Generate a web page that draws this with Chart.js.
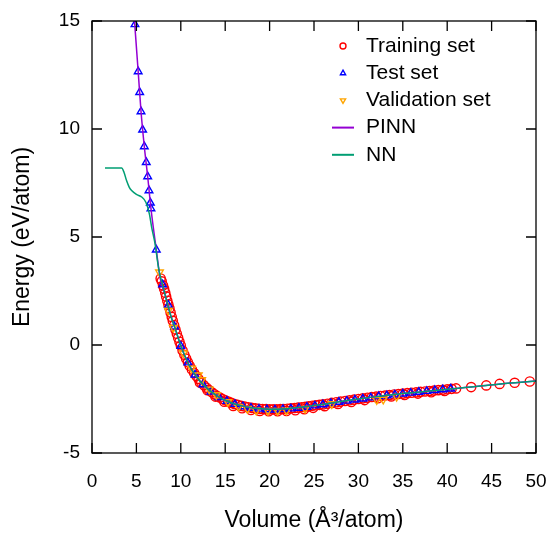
<!DOCTYPE html>
<html>
<head>
<meta charset="utf-8">
<script src="https://cdn.jsdelivr.net/npm/chart.js@4"></script>
<style>
  html, body { margin: 0; padding: 0; background: #fff; }
</style>
</head>
<body>
<canvas id="eos" width="552" height="535"></canvas>
<script>

// tick positions
const xTicks = [0, 5, 10, 15, 20, 25, 30, 35, 40, 45, 50];
const yTicks = [-5, 0, 5, 10, 15];

// training set (red circles)
const trainV = [7.73, 7.85, 8.0, 8.12, 8.25, 8.35, 8.48, 8.6, 8.72, 8.85, 8.98, 9.1, 9.25, 9.4, 9.55, 9.7, 9.85,
  10.0, 10.2, 10.4, 10.6, 10.8, 11.0, 11.25, 11.5, 11.75, 12.0, 12.3, 12.6, 12.9, 13.2, 13.5, 13.8, 14.1, 14.4,
  14.7, 15.0, 15.35, 15.7, 16.05, 16.4, 16.8, 17.2, 17.6, 18.0, 18.4, 18.8, 19.2, 19.6, 20.0, 20.4, 20.8, 21.2,
  21.6, 22.0, 22.4, 22.8, 23.2, 23.6, 24.0, 24.4, 24.8, 25.2, 25.6, 26.0, 26.5, 27.0, 27.5, 28.0, 28.5, 29.0,
  29.5, 30.0, 30.5, 31.0, 31.5, 32.0, 32.5, 33.0, 33.5, 34.0, 34.5, 35.0, 35.5, 36.0, 36.5, 37.0, 37.5, 38.0,
  38.5, 39.0, 39.5, 40.0, 40.5, 41.0, 42.7, 44.4, 45.9, 47.6, 49.3,
  12.15, 13.0, 13.9, 14.9, 15.9, 16.9, 17.9, 18.9, 19.9, 20.9, 21.9, 22.9, 23.9, 24.9, 26.2, 27.7, 29.2, 30.7,
  32.2, 33.7, 35.2, 36.7, 38.2, 39.7];
const trainE = [3.08, 2.95, 2.75, 2.6, 2.42, 2.25, 2.05, 1.88, 1.7, 1.5, 1.3, 1.12, 0.92, 0.72, 0.52, 0.33, 0.15,
  -0.02, -0.25, -0.45, -0.63, -0.8, -0.96, -1.13, -1.3, -1.44, -1.57, -1.72, -1.86, -1.98, -2.09, -2.19, -2.28,
  -2.36, -2.43, -2.5, -2.56, -2.62, -2.68, -2.73, -2.77, -2.82, -2.85, -2.88, -2.91, -2.93, -2.95, -2.96, -2.97,
  -2.98, -2.98, -2.98, -2.97, -2.96, -2.95, -2.93, -2.92, -2.9, -2.88, -2.86, -2.84, -2.81, -2.79, -2.77, -2.75,
  -2.72, -2.68, -2.65, -2.62, -2.59, -2.56, -2.53, -2.5, -2.47, -2.44, -2.41, -2.39, -2.36, -2.34, -2.32, -2.29,
  -2.27, -2.25, -2.23, -2.21, -2.19, -2.17, -2.15, -2.13, -2.11, -2.09, -2.07, -2.05, -2.03, -2.01, -1.95,
  -1.87, -1.8, -1.75, -1.69,
  -1.74, -2.09, -2.39, -2.63, -2.82, -2.93, -3.01, -3.05, -3.07, -3.07, -3.05, -3.02, -2.97, -2.91, -2.83,
  -2.73, -2.64, -2.55, -2.46, -2.38, -2.31, -2.25, -2.19, -2.13];

// test set (blue triangles)
const testV = [4.84, 5.2, 5.37, 5.52, 5.7, 5.89, 6.11, 6.27, 6.42, 6.57, 6.64, 7.24, 7.95, 8.6, 9.3, 10.0, 10.8,
  11.6, 12.5, 13.4, 14.3, 15.2, 16.1, 17.0, 17.9, 18.8, 19.7, 20.6, 21.5, 22.4, 23.3, 24.2, 25.1, 26.0, 26.9,
  27.8, 28.7, 29.6, 30.5, 31.4, 32.3, 33.2, 34.1, 35.0, 35.9, 36.8, 37.7, 38.6, 39.5, 40.4];
const testE = [14.84, 12.66, 11.7, 10.81, 9.96, 9.19, 8.46, 7.8, 7.15, 6.58, 6.32, 4.41, 2.8, 1.85, 0.85, -0.05,
  -0.82, -1.38, -1.83, -2.17, -2.42, -2.6, -2.74, -2.85, -2.92, -2.96, -2.99, -3.0, -2.98, -2.95, -2.92, -2.87,
  -2.81, -2.76, -2.7, -2.64, -2.59, -2.54, -2.49, -2.44, -2.38, -2.34, -2.3, -2.26, -2.22, -2.18, -2.14, -2.1,
  -2.06, -2.03];

// validation set (orange down triangles)
const validV = [7.6, 8.6, 9.16, 10.3, 11.2, 11.97, 12.35, 13.2, 14.0, 15.3, 16.5, 17.5, 18.5, 19.8, 20.9, 21.9,
  24.0, 27.0, 32.06, 32.8, 34.3];
const validE = [3.37, 1.6, 0.8, -0.38, -1.08, -1.4, -1.62, -2.05, -2.31, -2.64, -2.85, -2.95, -3.03, -3.04,
  -3.04, -3.03, -2.95, -2.73, -2.54, -2.52, -2.39];

// PINN curve
const pinnV = [4.75, 5.2, 5.52, 5.89, 6.27, 6.64, 7.24, 7.7, 8.2, 8.8, 9.4, 10.0, 11.0, 12.0, 13.0, 14.0, 15.0,
  16.0, 17.0, 18.0, 19.0, 20.0, 21.0, 22.0, 23.0, 24.0, 25.0, 26.0, 28.0, 30.0, 32.0, 34.0, 36.0, 38.0, 40.0,
  42.0, 44.0, 46.0, 48.0, 50.0];
const pinnE = [15.2, 12.66, 10.81, 9.19, 7.8, 6.32, 4.41, 3.05, 2.38, 1.45, 0.72, -0.03, -0.98, -1.6, -2.02,
  -2.33, -2.56, -2.72, -2.83, -2.9, -2.95, -2.97, -2.97, -2.95, -2.91, -2.86, -2.8, -2.75, -2.62, -2.5, -2.39,
  -2.29, -2.21, -2.13, -2.05, -1.97, -1.89, -1.8, -1.74, -1.67];

// NN curve
const nnV = [1.46, 3.34, 3.6, 3.9, 4.2, 4.46, 5.0, 5.6, 6.08, 6.46, 6.72, 7.1, 7.5, 8.0, 8.8, 9.4, 10.0, 11.0,
  12.0, 13.0, 14.0, 15.0, 16.0, 17.0, 18.0, 19.0, 20.0, 21.0, 22.0, 23.0, 24.0, 25.0, 26.0, 28.0, 30.0, 32.0,
  34.0, 36.0, 38.0, 40.0, 42.0, 44.0, 46.0, 48.0, 50.0];
const nnE = [8.19, 8.19, 8.0, 7.6, 7.3, 7.15, 6.97, 6.85, 6.6, 6.07, 5.45, 4.69, 3.55, 2.7, 1.45, 0.72, -0.03,
  -0.98, -1.6, -2.02, -2.33, -2.56, -2.72, -2.83, -2.9, -2.95, -2.97, -2.97, -2.95, -2.91, -2.86, -2.8, -2.75,
  -2.62, -2.5, -2.39, -2.29, -2.21, -2.13, -2.05, -1.97, -1.89, -1.8, -1.74, -1.67];

const pts = (xs, ys) => xs.map((x, i) => ({x: x, y: ys[i]}));

Chart.defaults.font.family = '"Liberation Sans", Arial, Helvetica, sans-serif';
Chart.defaults.color = '#000';

// gnuplot style box with inward ticks on all four sides
const framePlugin = {
  id: 'frame',
  afterDatasetsDraw(chart) {
    const {ctx, chartArea: a} = chart;
    const sx = chart.scales.x, sy = chart.scales.y;
    ctx.save();
    ctx.strokeStyle = '#000';
    ctx.lineWidth = 1.3;
    ctx.beginPath();
    xTicks.forEach(v => {
      const px = sx.getPixelForValue(v);
      ctx.moveTo(px, a.bottom); ctx.lineTo(px, a.bottom - 10);
      ctx.moveTo(px, a.top); ctx.lineTo(px, a.top + 10);
    });
    yTicks.forEach(v => {
      const py = sy.getPixelForValue(v);
      ctx.moveTo(a.left, py); ctx.lineTo(a.left + 10, py);
      ctx.moveTo(a.right, py); ctx.lineTo(a.right - 10, py);
    });
    ctx.stroke();
    ctx.strokeRect(a.left, a.top, a.right - a.left, a.bottom - a.top);
    ctx.restore();
  }
};

// key inside the plot, top right
const keyPlugin = {
  id: 'key',
  afterDraw(chart) {
    const ctx = chart.ctx;
    const a = chart.chartArea;
    const symX = a.right - 193, textX = a.right - 170;
    ctx.save();
    ctx.font = '21px "Liberation Sans", Arial, sans-serif';
    ctx.textBaseline = 'middle';
    chart.data.datasets.forEach((ds, i) => {
      const yy = a.top + 25 + i * 27.2;
      ctx.strokeStyle = ds.borderColor;
      if (ds.showLine) {
        ctx.lineWidth = 2;
        ctx.beginPath();
        ctx.moveTo(symX - 11, yy);
        ctx.lineTo(symX + 11, yy);
        ctx.stroke();
      } else {
        ctx.lineWidth = 1.4;
        ctx.fillStyle = 'rgba(0,0,0,0)';
        Chart.helpers.drawPoint(ctx, {
          pointStyle: ds.pointStyle, radius: 3, rotation: ds.pointRotation || 0, borderWidth: 1.4
        }, symX, yy);
      }
      ctx.fillStyle = '#000';
      ctx.fillText(ds.label, textX, yy);
    });
    ctx.restore();
  }
};

new Chart(document.getElementById('eos'), {
  type: 'scatter',
  data: {
    datasets: [{
      label: 'Training set',
      data: pts(trainV, trainE),
      pointStyle: 'circle',
      pointRadius: 4.6,
      borderColor: '#ff0000',
      backgroundColor: 'rgba(0,0,0,0)',
      borderWidth: 1.4,
      order: 5
    }, {
      label: 'Test set',
      data: pts(testV, testE),
      pointStyle: 'triangle',
      pointRadius: 4.4,
      borderColor: '#0000ff',
      backgroundColor: 'rgba(0,0,0,0)',
      borderWidth: 1.4,
      order: 4
    }, {
      label: 'Validation set',
      data: pts(validV, validE),
      pointStyle: 'triangle',
      pointRotation: 180,
      pointRadius: 4.4,
      borderColor: '#ffa500',
      backgroundColor: 'rgba(0,0,0,0)',
      borderWidth: 1.4,
      order: 3
    }, {
      label: 'PINN',
      data: pts(pinnV, pinnE),
      showLine: true,
      pointRadius: 0,
      borderColor: '#9400d3',
      borderWidth: 1.5,
      cubicInterpolationMode: 'monotone',
      clip: 0,
      order: 2
    }, {
      label: 'NN',
      data: pts(nnV, nnE),
      showLine: true,
      pointRadius: 0,
      borderColor: '#009e73',
      borderWidth: 1.5,
      cubicInterpolationMode: 'monotone',
      clip: 0,
      order: 1
    }]
  },
  options: {
    responsive: false,
    animation: false,
    layout: { padding: { top: 21, right: 16, left: 0, bottom: 0 } },
    plugins: {
      legend: { display: false },
      tooltip: { enabled: false }
    },
    scales: {
      x: {
        type: 'linear',
        min: 0, max: 50,
        afterBuildTicks: s => { s.ticks = xTicks.map(v => ({value: v})); },
        afterFit: s => { s.height = 82; s.paddingLeft = 0; s.paddingRight = 0; },
        grid: { display: false, drawTicks: false },
        border: { display: false },
        ticks: { font: { size: 19 }, padding: 17, maxRotation: 0 },
        title: { display: true, text: 'Volume (Å³/atom)', font: { size: 23 }, padding: { top: 0, bottom: 1 } }
      },
      y: {
        type: 'linear',
        min: -5, max: 15,
        afterBuildTicks: s => { s.ticks = yTicks.map(v => ({value: v})); },
        afterFit: s => { s.width = 92; s.paddingTop = 0; s.paddingBottom = 0; },
        grid: { display: false, drawTicks: false },
        border: { display: false },
        ticks: { font: { size: 19 }, padding: 12 },
        title: { display: true, text: 'Energy (eV/atom)', font: { size: 23 }, padding: { top: 9, bottom: 9 } }
      }
    }
  },
  plugins: [framePlugin, keyPlugin]
});
</script>
</body>
</html>
